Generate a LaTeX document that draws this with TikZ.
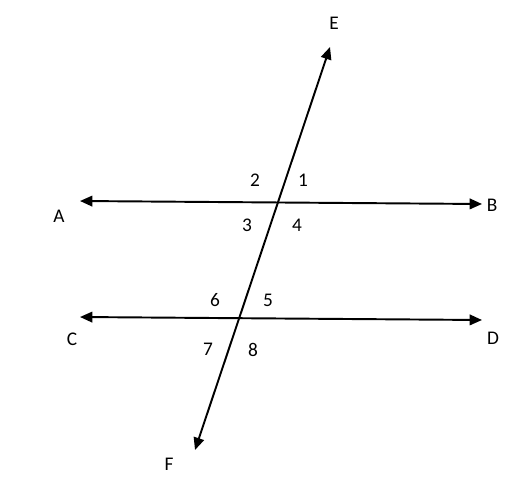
\documentclass[tikz,border=0pt]{standalone}
\usepackage{fontspec}
\setmainfont{Carlito}
\usetikzlibrary{arrows.meta}

\begin{document}
\begin{tikzpicture}[x=0.02cm, y=-0.02cm, line width=1.1pt,
    bothtips/.style={{Triangle[length=7pt, width=6pt]}-{Triangle[length=7pt, width=6pt]}},
    lbl/.style={font=\fontsize{11}{13}\selectfont, inner sep=0pt}]
    \useasboundingbox (0,0) rectangle (524,480);

    \coordinate (A) at (80,201);
    \coordinate (B) at (482,204);
    \coordinate (C) at (80,317);
    \coordinate (D) at (482,320);
    \coordinate (E) at (330,47);
    \coordinate (F) at (195,450);

    \draw[bothtips] (A) -- (B);
    \draw[bothtips] (C) -- (D);
    \draw[bothtips] (F) -- (E);

    \node[lbl] (lA) at (59,216) {A};
    \node[lbl] (lB) at (492,205) {B};
    \node[lbl] (lC) at (72,339) {C};
    \node[lbl] (lD) at (493,338) {D};
    \node[lbl] (lE) at (334,23) {E};
    \node[lbl] (lF) at (169,464) {F};

    \node[lbl] (n1) at (303,180) {1};
    \node[lbl] (n2) at (255,180) {2};
    \node[lbl] (n3) at (247,225) {3};
    \node[lbl] (n4) at (297,225) {4};
    \node[lbl] (n5) at (268,300) {5};
    \node[lbl] (n6) at (215,300) {6};
    \node[lbl] (n7) at (208,349) {7};
    \node[lbl] (n8) at (253,350) {8};
\end{tikzpicture}
\end{document}
